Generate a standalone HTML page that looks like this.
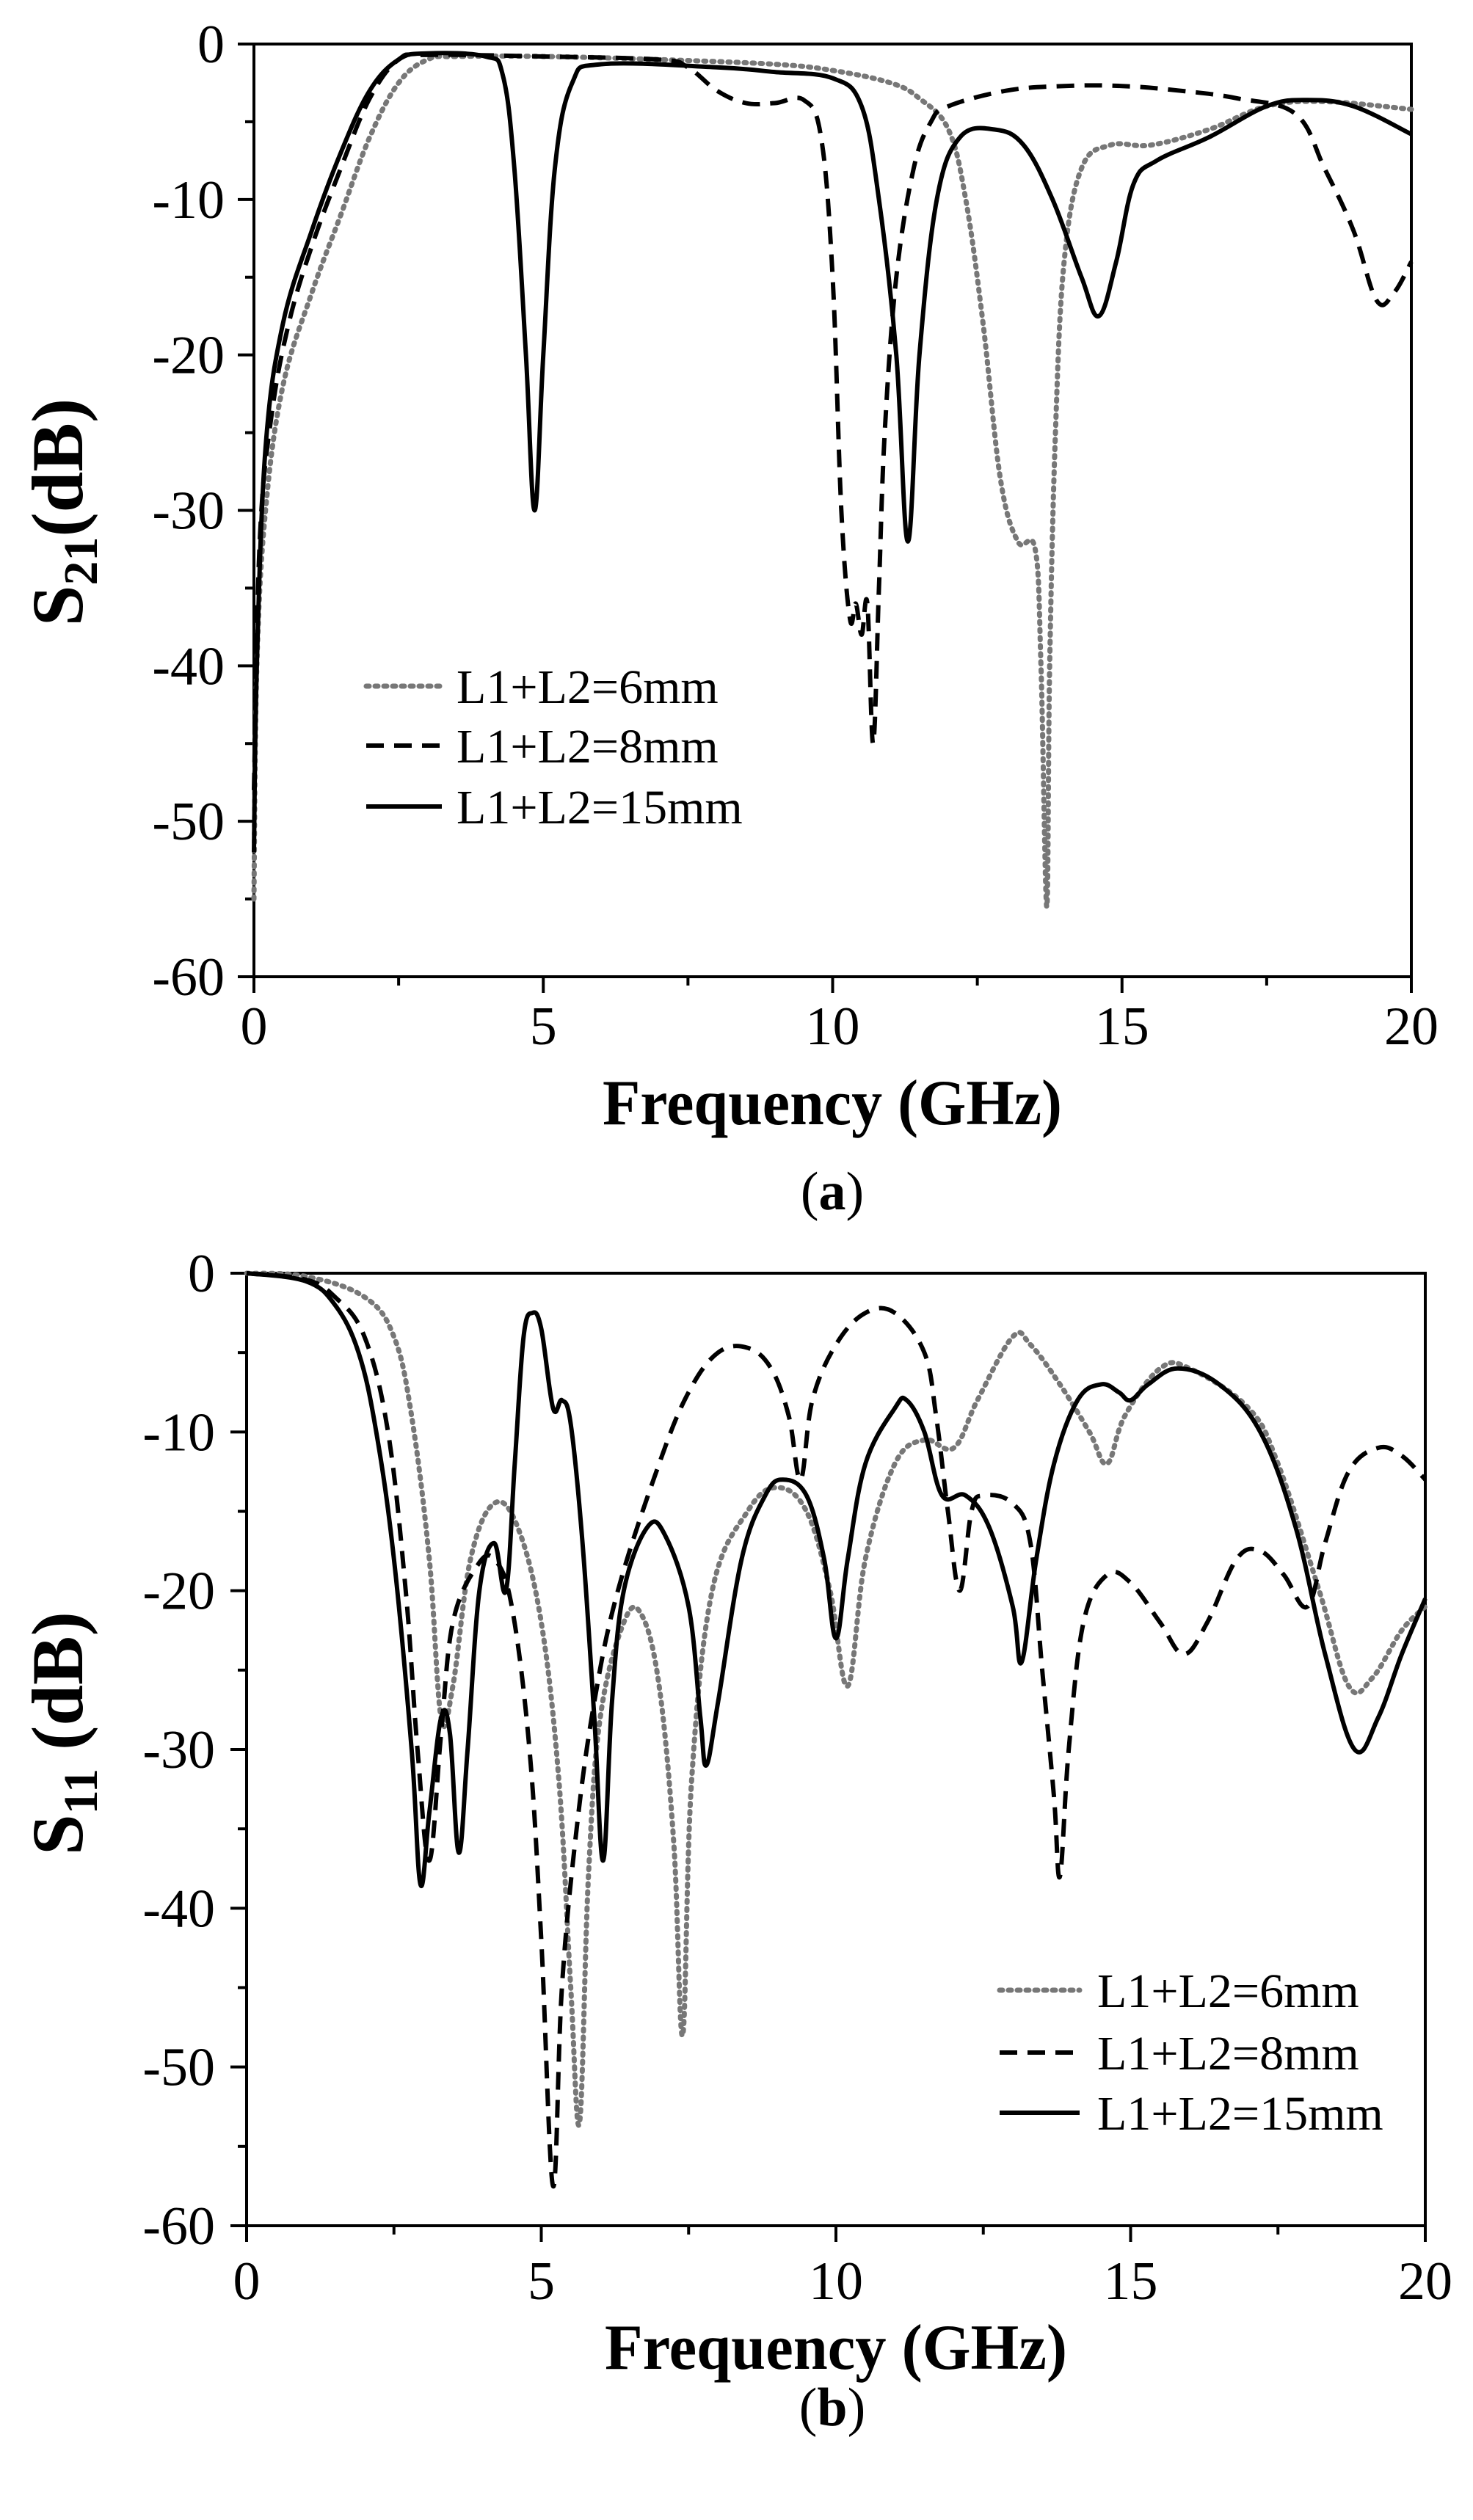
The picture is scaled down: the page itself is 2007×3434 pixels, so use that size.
<!DOCTYPE html>
<html><head><meta charset="utf-8"><style>
html,body{margin:0;padding:0;background:#fff;}
svg{display:block;}
text{font-family:"Liberation Serif",serif;fill:#000;}
</style></head><body>
<svg id="s" width="2007" height="3434" viewBox="0 0 2007 3434" xmlns="http://www.w3.org/2000/svg">
<g id="g"></g>
<text x="1134" y="1532" font-size="88" font-weight="bold" text-anchor="middle" textLength="626" lengthAdjust="spacingAndGlyphs">Frequency (GHz)</text>
<text x="1134" y="1648" font-size="74" text-anchor="middle">(<tspan font-weight="bold">a</tspan>)</text>
<text transform="translate(112,698) rotate(-90)" font-size="100" font-weight="bold" text-anchor="middle">S<tspan font-size="66" dy="20">21</tspan><tspan dy="-20">(dB)</tspan></text>
<text x="1139" y="3228" font-size="88" font-weight="bold" text-anchor="middle" textLength="630" lengthAdjust="spacingAndGlyphs">Frequency (GHz)</text>
<text x="1134" y="3305" font-size="74" text-anchor="middle">(<tspan font-weight="bold">b</tspan>)</text>
<text transform="translate(112,2362) rotate(-90)" font-size="100" font-weight="bold" text-anchor="middle">S<tspan font-size="66" dy="20">11</tspan><tspan dy="-20"> (dB)</tspan></text>
<g stroke-width="6" fill="none">
<line x1="499" y1="935" x2="602" y2="935" stroke="#777" stroke-width="7" stroke-dasharray="4 8" stroke-linecap="round"/>
<line x1="499" y1="1016" x2="602" y2="1016" stroke="#000" stroke-dasharray="24 14"/>
<line x1="499" y1="1099" x2="602" y2="1099" stroke="#000"/>
<line x1="1362" y1="2712" x2="1471" y2="2712" stroke="#777" stroke-width="7" stroke-dasharray="4 8" stroke-linecap="round"/>
<line x1="1362" y1="2797" x2="1471" y2="2797" stroke="#000" stroke-dasharray="24 14"/>
<line x1="1362" y1="2879" x2="1471" y2="2879" stroke="#000"/>
</g>
<g font-size="66">
<text x="622" y="958">L1+L2=6mm</text>
<text x="622" y="1039">L1+L2=8mm</text>
<text x="622" y="1122">L1+L2=15mm</text>
<text x="1495" y="2735">L1+L2=6mm</text>
<text x="1495" y="2820">L1+L2=8mm</text>
<text x="1495" y="2902">L1+L2=15mm</text>
</g>
</svg>
<script>
var NS="http://www.w3.org/2000/svg",g=document.getElementById('g');
function el(t,a,txt){var e=document.createElementNS(NS,t);for(var k in a)e.setAttribute(k,a[k]);if(txt!=null)e.textContent=txt;g.appendChild(e);return e;}
function axes(P){
  var X=function(f){return P.x0+f*(P.x1-P.x0)/20},Y=function(d){return P.y0-d*(P.y1-P.y0)/60};
  el('rect',{x:P.x0,y:P.y0,width:P.x1-P.x0,height:P.y1-P.y0,fill:'none',stroke:'#000','stroke-width':4});
  for(var f=0;f<=20;f+=2.5){var M=f%5==0;el('line',{x1:X(f),y1:P.y1,x2:X(f),y2:P.y1+(M?22:12),stroke:'#000','stroke-width':4});
    if(M)el('text',{x:X(f),y:P.y1+P.ly,'font-size':74,'text-anchor':'middle'},f);}
  for(var d=0;d>=-60;d-=5){var M=d%10==0;el('line',{x1:P.x0,y1:Y(d),x2:P.x0-(M?22:12),y2:Y(d),stroke:'#000','stroke-width':4});
    if(M)el('text',{x:P.x0-P.lx,y:Y(d)+25,'font-size':74,'text-anchor':'end'},d==0?'0':'-'+(-d));}
  P.series.forEach(function(s){
    var p=s.d.map(function(q){return [X(q[0]),Y(q[1])]});
    var str='M'+p[0][0]+','+p[0][1];
    for(var i=0;i<p.length-1;i++){var a=p[i-1]||p[i],b=p[i],c=p[i+1],e=p[i+2]||c,t=0.18;
      str+=' C'+(b[0]+(c[0]-a[0])*t)+','+(b[1]+(c[1]-a[1])*t)+' '+(c[0]-(e[0]-b[0])*t)+','+(c[1]-(e[1]-b[1])*t)+' '+c[0]+','+c[1];}
    var at={d:str,fill:'none','stroke-width':6,'stroke-linejoin':'round'};
    if(s.t=='dot'){at.stroke='#777';at['stroke-width']=7;at['stroke-dasharray']='3 8';at['stroke-linecap']='round';}
    else if(s.t=='dash'){at.stroke='#000';at['stroke-dasharray']='24 14';}
    else at.stroke='#000';
    el('path',at);
  });
}
axes({x0:346,x1:1923,y0:60,y1:1331,ly:92,lx:40,series:[
{t:'dot',d:[[0,-55],[0.05,-40],[0.2,-30],[0.5,-22],[1,-16],[1.5,-11],[2,-6],[2.5,-2.5],[3,-1],[3.5,-0.8],[5,-0.8],[7,-1],[9,-1.3],[10,-1.7],[11,-2.5],[11.5,-3.5],[12,-5.5],[12.3,-10],[12.6,-18],[12.9,-28],[13.2,-32],[13.5,-32.5],[13.6,-40],[13.7,-55.5],[13.75,-40],[13.85,-25],[14,-14],[14.3,-8],[14.8,-6.5],[15.5,-6.5],[16.5,-5.5],[17.5,-4],[18.5,-3.7],[20,-4.2]]},
{t:'dash',d:[[0,-48],[0.1,-32],[0.3,-24],[0.6,-18],[1,-13],[1.5,-8],[2,-3.5],[2.5,-1],[3,-0.7],[5,-0.8],[7,-1],[7.5,-1.5],[8,-3],[8.5,-3.8],[9,-3.8],[9.5,-3.6],[9.8,-6],[10,-15],[10.15,-30],[10.3,-37],[10.4,-36],[10.5,-38],[10.6,-36],[10.7,-45],[10.8,-35],[10.9,-25],[11.1,-15],[11.4,-8],[11.7,-5],[12,-4],[13,-3],[14,-2.7],[15,-2.7],[16,-3],[17,-3.5],[18,-4.5],[18.5,-8],[19,-12],[19.4,-16.5],[19.7,-16],[20,-14]]},
{t:'solid',d:[[0,-52],[0.05,-40],[0.2,-26],[0.5,-18],[1,-12],[1.5,-7],[2,-3],[2.5,-1],[3,-0.6],[4,-0.8],[4.3,-2],[4.5,-8],[4.7,-20],[4.85,-30],[5,-20],[5.2,-8],[5.5,-2.5],[6,-1.3],[8,-1.5],[9,-1.8],[10,-2.2],[10.5,-4],[10.8,-10],[11.1,-20],[11.3,-32],[11.5,-20],[11.8,-10],[12.2,-6],[12.8,-5.5],[13.3,-6.5],[13.8,-10],[14.3,-15],[14.6,-17.5],[14.9,-14],[15.2,-9],[15.6,-7.5],[16.5,-6],[17.5,-4],[18.2,-3.6],[19,-4],[20,-5.8]]}
]});
axes({x0:336,x1:1942,y0:1735,y1:3033,ly:100,lx:43,series:[
{t:'dot',d:[[0,0],[1,-0.2],[2,-1.5],[2.5,-4],[2.8,-9],[3.1,-18],[3.3,-28],[3.5,-26],[3.8,-18],[4.2,-14.5],[4.6,-16],[5,-22],[5.3,-32],[5.5,-45],[5.65,-53.5],[5.8,-38],[6,-28],[6.4,-22],[6.7,-21.5],[7,-26],[7.25,-36],[7.4,-48],[7.55,-32],[7.9,-20],[8.5,-15],[9,-13.5],[9.5,-15],[9.9,-20],[10.2,-26],[10.5,-18],[11,-12],[11.5,-10.5],[12,-11],[12.4,-8],[13,-4],[13.3,-4.5],[13.8,-7],[14.3,-10],[14.6,-12],[14.9,-9],[15.5,-6],[16,-6],[17,-8.5],[17.5,-12],[18.2,-20],[18.7,-26],[19.1,-25.5],[19.6,-22.5],[20,-21]]},
{t:'dash',d:[[0,0],[1,-0.4],[1.5,-1.5],[2,-4],[2.4,-10],[2.7,-20],[2.9,-30],[3.1,-37],[3.3,-29],[3.5,-22],[3.9,-18.5],[4.2,-18],[4.5,-21],[4.8,-30],[5,-42],[5.2,-57.5],[5.35,-45],[5.6,-35],[5.9,-27],[6.3,-20],[7,-12],[7.5,-7.5],[8,-5],[8.5,-4.7],[8.9,-6],[9.2,-9],[9.4,-13],[9.6,-8],[10,-4.5],[10.5,-2.5],[11,-2.5],[11.5,-5],[11.7,-9],[11.9,-15],[12.1,-20],[12.3,-15],[12.5,-14],[13,-14.5],[13.3,-17],[13.5,-25],[13.7,-33],[13.8,-38],[13.95,-30],[14.2,-22],[14.6,-19],[15,-19.5],[15.5,-22],[15.9,-24],[16.3,-22],[16.8,-18],[17.2,-17.5],[17.6,-19],[18,-21],[18.3,-17],[18.7,-12.5],[19.2,-11],[19.6,-11.5],[20,-13]]},
{t:'solid',d:[[0,0],[1,-0.5],[1.5,-2],[1.9,-5],[2.2,-10],[2.5,-18],[2.8,-30],[2.95,-38.5],[3.1,-34],[3.3,-28],[3.45,-29],[3.6,-36.5],[3.75,-30],[3.95,-20],[4.2,-17],[4.4,-20],[4.55,-12],[4.7,-4],[4.85,-2.5],[5,-3.5],[5.2,-8.5],[5.35,-8],[5.5,-9.5],[5.7,-17],[5.9,-28],[6.05,-37],[6.2,-27],[6.4,-20],[6.8,-16],[7.1,-16.5],[7.5,-21],[7.7,-28],[7.8,-31],[8,-27],[8.4,-18],[8.8,-14],[9.1,-13],[9.5,-14],[9.8,-18],[10,-23],[10.2,-18],[10.5,-12],[11,-8.5],[11.2,-8],[11.5,-10],[11.8,-14],[12.2,-14],[12.6,-16],[13,-21],[13.15,-24.5],[13.4,-18],[13.7,-12],[14.1,-8],[14.5,-7],[14.8,-7.5],[15,-8],[15.3,-7],[15.8,-6],[16.5,-7],[17.2,-10],[17.8,-16],[18.3,-24],[18.8,-30],[19.2,-28],[19.6,-24],[20,-20.5]]}
]});
</script>
</body></html>
